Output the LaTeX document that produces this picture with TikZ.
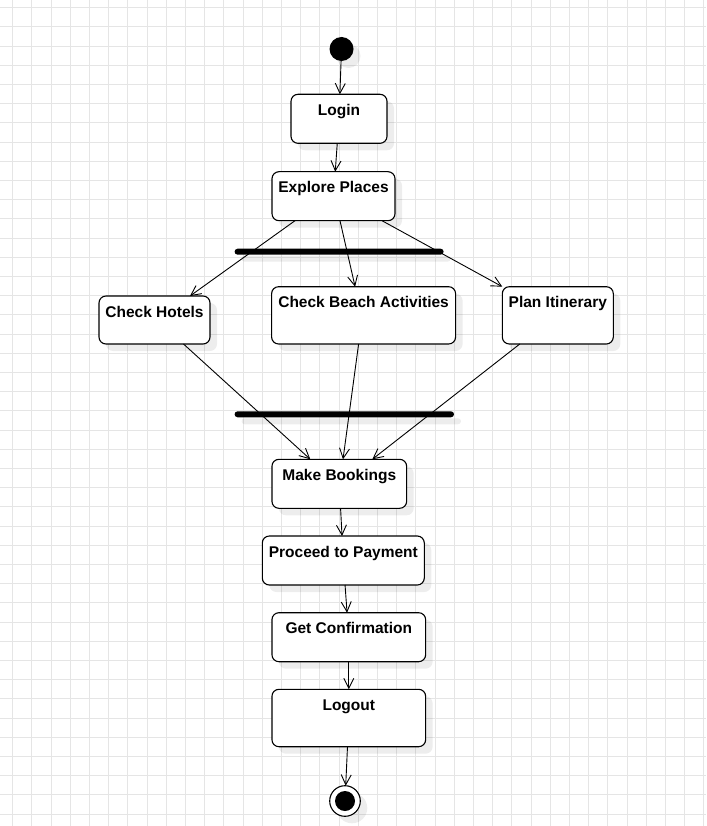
\documentclass[tikz,border=0pt]{standalone}
\usepackage{fontspec}
\setmainfont{Liberation Sans}
\usetikzlibrary{positioning,arrows.meta,shadows}

\tikzset{
    softshadow/.style={drop shadow={shadow xshift=7pt, shadow yshift=-7pt, fill=black, opacity=0.07}},
    gridline/.style={black!10, line width=1pt},
    activity/.style={draw, line width=1.1pt, fill=white, rounded corners=7pt, inner xsep=2pt, inner ysep=0pt, outer sep=0pt, text height=21pt, font=\bfseries\fontsize{15.5}{18}\selectfont, softshadow},
    bar/.style={fill=black, rounded corners=3pt, minimum height=6pt, inner sep=0pt, outer sep=0pt, softshadow},
    startdot/.style={circle, fill=black, minimum size=24pt, inner sep=0pt, outer sep=0pt, softshadow},
    enddot/.style={circle, draw, line width=1.1pt, fill=white, minimum size=30.6pt, inner sep=0pt, outer sep=0pt, softshadow, path picture={\fill[black] (path picture bounding box.center) circle (10pt);}},
    flow/.style={line width=0.9pt, -{Straight Barb[length=10pt, width=10pt]}},
}

\begin{document}
\begin{tikzpicture}[x=1pt, y=-1pt]
    \fill[white] (0,0) rectangle (706,826);
    \useasboundingbox (0,0) rectangle (706,826);
    \foreach \gx in {0,...,36}
        \draw[gridline] (12.7+19.2*\gx,0) -- (12.7+19.2*\gx,826);
    \foreach \gy in {0,...,42}
        \draw[gridline] (0,7.7+19.2*\gy) -- (706,7.7+19.2*\gy);

    \node[startdot] (start) at (341.5,49) {};
    \node[activity, minimum width=96pt, text depth=28pt, below=33.3pt of start, xshift=-2.5pt] (login) {Login};
    \node[activity, minimum width=123pt, text depth=28pt, below=28.4pt of login, xshift=-5.5pt] (explore) {Explore Places};
    \node[bar, minimum width=209pt, below=28pt of explore, xshift=5.6pt] (fork) {};
    \node[activity, minimum width=111pt, text depth=27pt, below=41.3pt of fork, xshift=-184.6pt] (hotels) {Check Hotels};
    \node[activity, minimum width=184pt, text depth=36.3pt, below=32pt of fork, xshift=24.5pt] (beach) {Check Beach Activities};
    \node[activity, minimum width=111pt, text depth=36.3pt, below=32pt of fork, xshift=218.7pt] (plan) {Plan Itinerary};
    \node[bar, minimum width=219.4pt, below=67.3pt of beach, xshift=-19.3pt] (join) {};
    \node[activity, minimum width=134.7pt, text depth=28pt, below=42pt of join, xshift=-5pt] (bookings) {Make Bookings};
    \node[activity, minimum width=162pt, text depth=28pt, below=27.7pt of bookings, xshift=4pt] (payment) {Proceed to Payment};
    \node[activity, minimum width=153.7pt, text depth=28pt, below=27.7pt of payment, xshift=5.5pt] (confirm) {Get Confirmation};
    \node[activity, minimum width=153.7pt, text depth=36.4pt, below=27.6pt of confirm] (logout) {Logout};
    \node[enddot, below=39pt of logout, xshift=-3.8pt] (end) {};

    \draw[flow] (start) -- (login);
    \draw[flow] (login) -- (explore);
    \draw[flow] ([xshift=-38.5pt]explore.south) -- ([xshift=35.5pt]hotels.north);
    \draw[flow] ([xshift=6.5pt]explore.south) -- ([xshift=-8.5pt]beach.north);
    \draw[flow] ([xshift=48.5pt]explore.south) -- (plan.north west);
    \draw[flow] ([xshift=29pt]hotels.south) -- ([xshift=-29pt]bookings.north);
    \draw[flow] ([xshift=-5pt]beach.south) -- ([xshift=3.7pt]bookings.north);
    \draw[flow] ([xshift=-38pt]plan.south) -- ([xshift=33pt]bookings.north);
    \draw[flow] (bookings) -- (payment);
    \draw[flow] (payment) -- (confirm);
    \draw[flow] (confirm) -- (logout);
    \draw[flow] (logout) -- (end);
\end{tikzpicture}
\end{document}
